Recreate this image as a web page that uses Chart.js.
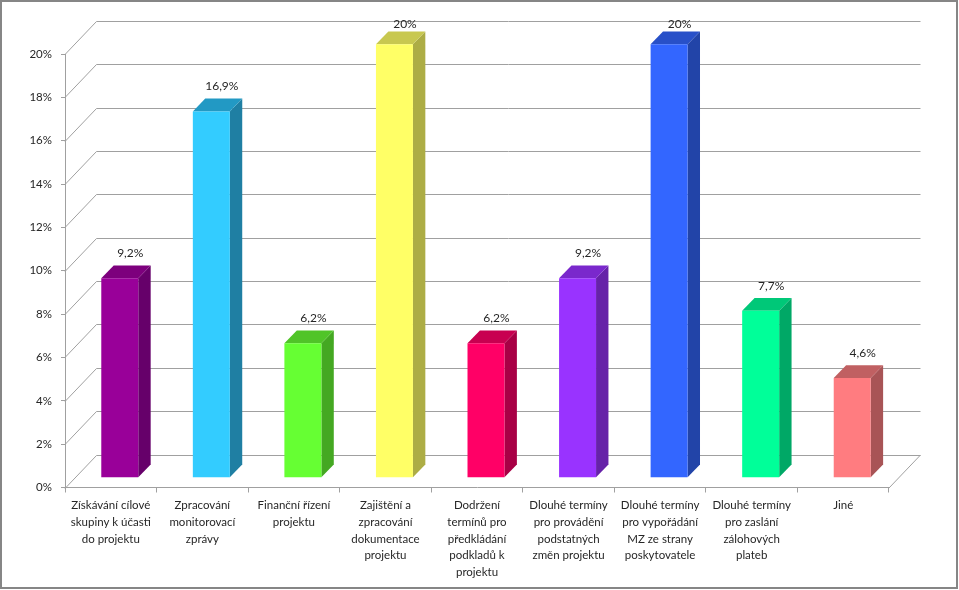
<!DOCTYPE html>
<html lang="cs">
<head>
<meta charset="utf-8">
<title>Graf</title>
<script src="https://cdn.jsdelivr.net/npm/chart.js@4/dist/chart.umd.min.js"></script>
<style>
    html, body { margin: 0; padding: 0; background: #fff; }
    canvas { display: block; }
</style>
</head>
<body>
<canvas id="grafico" width="959" height="590"></canvas>
<script>
const categorias = [
    ['Získávání cílové', 'skupiny k účasti', 'do projektu'],
    ['Zpracování', 'monitorovací', 'zprávy'],
    ['Finanční řízení', 'projektu'],
    ['Zajištění a', 'zpracování', 'dokumentace', 'projektu'],
    ['Dodržení', 'termínů pro', 'předkládání', 'podkladů k', 'projektu'],
    ['Dlouhé termíny', 'pro provádění', 'podstatných', 'změn projektu'],
    ['Dlouhé termíny', 'pro vypořádání', 'MZ ze strany', 'poskytovatele'],
    ['Dlouhé termíny', 'pro zaslání', 'zálohových', 'plateb'],
    ['Jiné']
]
const valores = [9.2, 16.9, 6.2, 20, 6.2, 9.2, 20, 7.7, 4.6]
const etiquetas = ['9,2%', '16,9%', '6,2%', '20%', '6,2%', '9,2%', '20%', '7,7%', '4,6%']
const coloresFrente = ['#990099', '#33ccff', '#66ff33', '#ffff66', '#ff0066', '#9933ff', '#3366ff', '#00ff99', '#ff7c80']
const coloresLado = ['#66006a', '#1f7fa3', '#44a822', '#adad45', '#a80045', '#6622a8', '#2244a8', '#00a866', '#a85456']
const coloresArriba = ['#7d007d', '#2299c4', '#50c428', '#c8c850', '#c80050', '#7a28cc', '#2850c8', '#00c878', '#c06062']

const gris = '#a0a0a0'
const tinta = '#262626'
const fuente = 'Lato, sans-serif'

const muro = { dx: 31.5, dy: -33 }      // back wall offset
const base = { dx: 9, dy: -9.8 }        // bars stand a little inside the floor
const fondo = { dx: 12.4, dy: -12.8 }   // depth of each bar

const cubo3d = {
    id: 'cubo3d',
    beforeDraw(chart) {
        const ctx = chart.ctx
        ctx.save()
        ctx.strokeStyle = '#868686'
        ctx.lineWidth = 2
        ctx.strokeRect(1, 1, 956, 587)
        ctx.restore()
    },
    beforeDatasetsDraw(chart) {
        const ctx = chart.ctx
        const { left, right, bottom } = chart.chartArea
        const y = chart.scales.y

        ctx.save()
        ctx.strokeStyle = gris
        ctx.lineWidth = 1
        y.ticks.forEach((tick) => {
            const py = Math.round(y.getPixelForValue(tick.value)) + 0.5
            ctx.beginPath()
            ctx.moveTo(left, py)
            ctx.lineTo(left + muro.dx, py + muro.dy)
            ctx.lineTo(right + muro.dx, py + muro.dy)
            ctx.stroke()
        })
        ctx.beginPath()
        ctx.moveTo(right, bottom + 0.5)
        ctx.lineTo(right + muro.dx, bottom + 0.5 + muro.dy)
        ctx.stroke()
        ctx.restore()

        ctx.save()
        ctx.translate(base.dx, base.dy)
        chart.getDatasetMeta(0).data.forEach((barra, i) => {
            const x0 = barra.x - barra.width / 2
            const x1 = barra.x + barra.width / 2
            ctx.fillStyle = coloresLado[i]
            ctx.beginPath()
            ctx.moveTo(x1, barra.y)
            ctx.lineTo(x1 + fondo.dx, barra.y + fondo.dy)
            ctx.lineTo(x1 + fondo.dx, barra.base + fondo.dy)
            ctx.lineTo(x1, barra.base)
            ctx.closePath()
            ctx.fill()
            ctx.fillStyle = coloresArriba[i]
            ctx.beginPath()
            ctx.moveTo(x0, barra.y)
            ctx.lineTo(x0 + fondo.dx, barra.y + fondo.dy)
            ctx.lineTo(x1 + fondo.dx, barra.y + fondo.dy)
            ctx.lineTo(x1, barra.y)
            ctx.closePath()
            ctx.fill()
        })
    },
    afterDatasetsDraw(chart) {
        const ctx = chart.ctx
        ctx.restore()

        ctx.save()
        ctx.fillStyle = tinta
        ctx.font = `12px ${fuente}`
        ctx.textAlign = 'center'
        ctx.textBaseline = 'middle'
        chart.getDatasetMeta(0).data.forEach((barra, i) => {
            const py = Math.max(24, barra.y + base.dy - 25)
            ctx.fillText(etiquetas[i], barra.x + base.dx + 10.5, py)
        })
        ctx.restore()
    }
}

new Chart(document.querySelector('#grafico'), {
    type: 'bar',
    data: {
        labels: categorias,
        datasets: [{
            data: valores,
            backgroundColor: coloresFrente,
            borderWidth: 0,
            barPercentage: 0.404,
            categoryPercentage: 1,
            clip: false
        }]
    },
    options: {
        responsive: false,
        animation: false,
        layout: { padding: { top: 54, right: 70, left: 0, bottom: 0 } },
        plugins: {
            legend: { display: false },
            tooltip: { enabled: false }
        },
        scales: {
            x: {
                afterFit: (escala) => { escala.height = 102.5 },
                border: { color: gris },
                grid: { drawOnChartArea: false, color: gris, tickLength: 5 },
                ticks: {
                    autoSkip: false,
                    maxRotation: 0,
                    minRotation: 0,
                    padding: 5,
                    color: tinta,
                    font: { family: fuente, size: 11.5, lineHeight: 1.44 }
                }
            },
            y: {
                min: 0,
                max: 20,
                afterFit: (escala) => { escala.width = 65 },
                border: { color: gris },
                grid: { drawOnChartArea: false, color: gris, tickLength: 4 },
                ticks: {
                    stepSize: 2,
                    padding: 9,
                    color: tinta,
                    font: { family: fuente, size: 11.5 },
                    callback: (v) => `${v}%`
                }
            }
        }
    },
    plugins: [cubo3d]
})
</script>
</body>
</html>
